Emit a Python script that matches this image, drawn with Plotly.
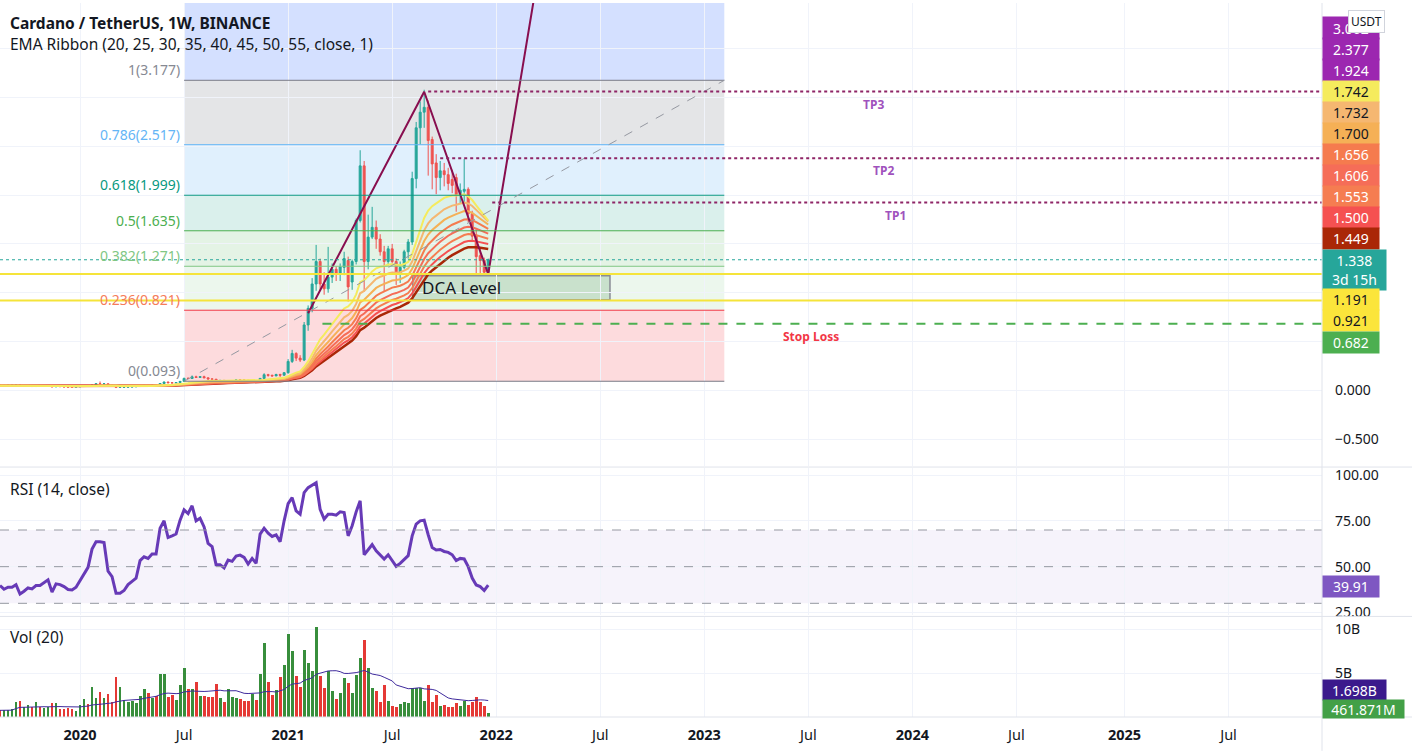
import pandas as pd
import numpy as np
import plotly.graph_objects as go
from plotly.subplots import make_subplots

# ---------------- data (weekly ADA/USDT) ----------------
start_week = "2019-08-19"
n_weeks = 123
opens = [0.053,0.048,0.050,0.052,0.053,0.055,0.040,0.041,0.042,0.039,0.043,0.041,0.042,0.044,0.036,0.039,0.038,0.035,0.033,0.033,
         0.035,0.040,0.045,0.043,0.053,0.068,0.066,0.067,0.052,0.047,0.031,0.032,0.033,0.035,0.036,0.039,0.047,0.050,0.048,0.051,
         0.050,0.070,0.085,0.078,0.076,0.080,0.092,0.122,0.121,0.139,0.132,0.140,0.128,0.117,0.114,0.091,0.102,0.093,0.097,0.100,
         0.106,0.105,0.103,0.094,0.100,0.097,0.122,0.160,0.154,0.148,0.162,0.155,0.181,0.296,0.378,0.33,0.31,0.67,0.84,1.09,
         1.32,1.09,1.04,1.16,1.24,1.20,1.26,1.33,1.11,1.32,1.74,2.30,1.32,1.57,1.67,1.55,1.42,1.32,1.45,1.32,
         1.20,1.26,1.42,1.52,2.17,2.69,2.85,2.90,2.57,2.33,2.18,2.25,2.21,2.16,2.18,2.00,2.04,2.06,1.81,1.59,
         1.38,1.33,1.21]
highs = [0.056,0.052,0.054,0.056,0.060,0.056,0.042,0.044,0.043,0.045,0.045,0.044,0.047,0.045,0.041,0.040,0.039,0.036,0.035,0.036,
         0.041,0.047,0.046,0.055,0.070,0.091,0.071,0.068,0.055,0.049,0.035,0.036,0.037,0.038,0.040,0.050,0.054,0.052,0.053,0.053,
         0.073,0.090,0.087,0.082,0.083,0.094,0.130,0.134,0.152,0.150,0.144,0.150,0.130,0.119,0.116,0.105,0.104,0.100,0.103,0.111,
         0.109,0.108,0.105,0.102,0.106,0.125,0.175,0.169,0.160,0.170,0.170,0.185,0.32,0.415,0.39,0.36,0.70,0.87,1.15,1.49,
         1.35,1.21,1.47,1.30,1.27,1.30,1.42,1.37,1.34,1.76,2.46,2.35,1.80,1.88,1.74,1.60,1.48,1.48,1.50,1.35,
         1.32,1.44,1.55,2.24,2.75,2.96,3.08,2.97,2.60,2.42,2.35,2.33,2.28,2.26,2.22,2.12,2.37,2.08,1.84,1.65,
         1.46,1.36,1.35]
lows = [0.046,0.045,0.048,0.050,0.049,0.037,0.038,0.038,0.037,0.036,0.040,0.040,0.041,0.034,0.035,0.036,0.034,0.032,0.032,0.032,
        0.034,0.039,0.041,0.042,0.052,0.064,0.060,0.050,0.044,0.023,0.027,0.030,0.031,0.033,0.034,0.038,0.045,0.045,0.047,0.048,
        0.049,0.068,0.073,0.075,0.074,0.079,0.090,0.116,0.118,0.128,0.130,0.126,0.110,0.108,0.077,0.089,0.090,0.087,0.094,0.098,
        0.100,0.098,0.091,0.092,0.095,0.095,0.118,0.140,0.140,0.145,0.137,0.150,0.17,0.28,0.30,0.29,0.30,0.61,0.80,1.02,
        1.03,0.98,1.00,1.10,1.12,1.12,1.18,0.91,1.03,1.29,1.72,1.01,1.24,1.55,1.45,1.38,1.01,1.28,1.30,1.08,
        1.10,1.24,1.35,1.49,2.07,2.52,2.69,2.20,2.06,2.01,2.05,2.09,2.05,2.02,1.83,1.92,1.93,1.72,1.52,1.18,
        1.20,1.19,1.19]
closes = [0.048,0.050,0.052,0.053,0.055,0.040,0.041,0.042,0.039,0.043,0.041,0.042,0.044,0.036,0.039,0.038,0.035,0.033,0.0325,0.035,
          0.040,0.045,0.043,0.053,0.068,0.066,0.067,0.052,0.047,0.031,0.032,0.033,0.035,0.036,0.039,0.047,0.050,0.048,0.051,0.050,
          0.070,0.085,0.078,0.076,0.080,0.092,0.122,0.121,0.139,0.132,0.140,0.128,0.117,0.114,0.091,0.102,0.093,0.097,0.100,0.106,
          0.105,0.103,0.094,0.100,0.097,0.122,0.160,0.154,0.148,0.162,0.155,0.181,0.296,0.378,0.33,0.31,0.67,0.84,1.09,1.32,
          1.09,1.04,1.16,1.24,1.20,1.265,1.35,1.06,1.32,1.74,2.30,1.32,1.57,1.67,1.55,1.42,1.32,1.45,1.32,1.20,
          1.26,1.42,1.52,2.17,2.69,2.85,2.90,2.56,2.32,2.18,2.25,2.21,2.12,2.10,2.00,2.05,2.06,1.81,1.58,1.37,
          1.33,1.21,1.338]
volume_b = [0.76,0.76,0.76,0.84,1.71,1.79,1.14,1.33,1.14,1.67,1.14,1.03,1.06,1.52,1.52,0.91,0.84,0.95,0.91,0.65,
            1.29,2.02,1.41,3.42,2.13,2.85,2.13,2.59,1.71,4.56,3.42,1.90,1.71,1.79,1.60,2.36,3.16,2.66,2.09,2.36,
            4.87,4.87,2.28,2.47,1.90,3.61,5.51,3.16,3.16,3.99,2.36,2.36,2.21,2.28,3.73,2.09,1.71,3.12,2.21,2.09,
            2.02,1.79,1.79,2.59,1.90,4.87,8.37,3.99,2.47,3.04,4.56,5.89,9.43,7.49,4.64,3.42,7.60,6.16,5.21,10.27,
            4.64,3.31,5.25,2.97,2.02,2.74,4.41,3.80,2.74,4.75,6.65,8.75,5.51,3.23,2.93,1.71,3.61,1.79,1.22,1.06,
            1.44,1.67,1.60,3.31,3.31,3.31,1.79,3.61,1.71,2.47,1.22,1.33,1.14,1.06,1.60,1.22,1.83,1.33,1.71,2.21,
            1.71,1.22,0.462]
rsi = [39.7,37.7,38.8,38.8,40.2,35.1,36.6,38.4,37.9,39.7,39.7,41.5,42.8,36.1,40.6,40.2,39.1,37.5,37.3,38.8,
       42.4,46.4,49.6,59.6,63.6,63.6,63.2,47.5,44.6,35.5,35.5,37.0,40.2,42.0,43.7,53.3,55.4,54.5,56.9,56.9,
       71.0,75.0,65.9,66.8,67.8,75.4,81.0,79.0,83.2,75.0,76.4,71.7,62.7,60.9,51.1,51.1,49.3,53.6,52.9,55.8,
       56.3,55.1,51.4,54.5,51.8,67.8,71.0,68.3,66.5,67.4,63.6,75.0,84.4,87.7,80.4,78.6,90.4,93.1,94.6,95.8,
       81.3,75.9,78.6,78.6,78.1,79.9,79.5,66.8,72.3,79.9,85.9,56.5,59.2,62.0,58.7,56.3,54.2,56.5,53.6,50.2,
       51.8,54.2,56.0,66.8,73.2,75.0,75.4,67.4,60.5,59.1,59.4,58.3,57.8,56.5,53.3,54.5,54.2,50.0,43.8,40.0,
       39.1,37.0,39.91]
ema_lengths = [20, 25, 30, 35, 40, 45, 50, 55]
ema_colors = ["#f5eb5d", "#f5b771", "#f5b056", "#f57b4e", "#f56d58", "#f57d51", "#f55151", "#aa2707"]
ema_labels = ["1.742", "1.732", "1.700", "1.656", "1.606", "1.553", "1.500", "1.449"]
vol_ma_label = "1.698B"
vol_last_label = "461.871M"

# fib retracement drawing
fib_start, fib_end = "2020-07-06", "2023-02-06"
fib_low, fib_high = 0.093, 3.177
fib_levels = [0, 0.236, 0.382, 0.5, 0.618, 0.786, 1]
fib_line_colors = ["#787b86", "#f23645", "#81c784", "#4caf50", "#089981", "#64b5f6", "#787b86"]
fib_text_colors = ["#868993", "#f57c5a", "#81c784", "#4caf50", "#089981", "#64b5f6", "#868993"]
fib_fill_colors = ["rgba(242,54,69,0.18)", "rgba(129,199,132,0.15)", "rgba(76,175,80,0.15)",
                   "rgba(8,153,129,0.15)", "rgba(100,181,246,0.2)", "rgba(120,123,134,0.2)",
                   "rgba(41,98,255,0.2)"]

# zigzag drawing
zig_dates = ["2021-02-08", "2021-08-30", "2021-12-20", "2022-04-07"]
zig_prices = [0.79, 3.06, 1.19, 5.0]
# targets / levels
tp_names = ["TP1", "TP2", "TP3"]
tp_prices = [1.924, 2.377, 3.062]
tp_starts = ["2021-12-27", "2021-09-27", "2021-09-06"]
tp_text_dates = ["2023-12-02", "2023-11-11", "2023-10-25"]
dca_upper, dca_lower = 1.191, 0.921
dca_box = ("2021-08-10", "2022-07-21", 0.929, 1.173)
stop_loss = 0.682
stop_start = "2021-03-05"
stop_text_date = "2023-07-08"
last_price = 1.338

x_ticks = ["2020-01-06", "2020-07-06", "2021-01-04", "2021-07-05", "2022-01-03", "2022-07-04",
           "2023-01-02", "2023-07-03", "2024-01-01", "2024-07-01", "2025-01-06", "2025-07-07"]
x_tick_text = ["<b>2020</b>", "Jul", "<b>2021</b>", "Jul", "<b>2022</b>", "Jul",
               "<b>2023</b>", "Jul", "<b>2024</b>", "Jul", "<b>2025</b>", "Jul"]
X_LEFT, X_RIGHT = "2019-08-19", "2025-12-17 12:00"

# ---------------- derived ----------------
dates = pd.date_range(start_week, periods=n_weeks, freq="7D")
close_s = pd.Series(closes, index=dates)
vol = np.array(volume_b) * 1e9
vol_ma = pd.Series(vol).rolling(20, min_periods=1).mean()
up = [c >= o for o, c in zip(opens, closes)]
vol_colors = ["#388e3c" if u else "#e53935" for u in up]

W, H = 1412, 751
MR, MB = 90, 34
PH = H - MB
PW = W - MR
def py(px):
    return 1 - px / PH

FONT = "Noto Sans"
TXT = "#131722"
GRID = "#f0f3fa"

fig = make_subplots(rows=3, cols=1, shared_xaxes=True, vertical_spacing=0)

# fib fills
shapes = []
bounds = [fib_low + l * (fib_high - fib_low) for l in fib_levels] + [6.0]
for k in range(len(bounds) - 1):
    shapes.append(dict(type="rect", xref="x", yref="y", x0=fib_start, x1=fib_end,
                       y0=bounds[k], y1=bounds[k + 1], fillcolor=fib_fill_colors[k],
                       line_width=0, layer="below"))
for k, l in enumerate(fib_levels):
    shapes.append(dict(type="line", xref="x", yref="y", x0=fib_start, x1=fib_end,
                       y0=bounds[k], y1=bounds[k], line=dict(color=fib_line_colors[k], width=1)))
shapes.append(dict(type="line", xref="x", yref="y", x0=fib_start, x1=fib_end, y0=fib_low, y1=fib_high,
                   line=dict(color="#9598a1", width=1, dash="dash")))
# DCA box
shapes.append(dict(type="rect", xref="x", yref="y", x0=dca_box[0], x1=dca_box[1], y0=dca_box[2], y1=dca_box[3],
                   fillcolor="rgba(110,170,120,0.28)", line=dict(color="#8a8d96", width=1.5), layer="below"))

# candles
fig.add_trace(go.Candlestick(x=dates, open=opens, high=highs, low=lows, close=closes,
                             increasing=dict(line=dict(color="#26a69a", width=1), fillcolor="#26a69a"),
                             decreasing=dict(line=dict(color="#ef5350", width=1), fillcolor="#ef5350"),
                             whiskerwidth=0, showlegend=False, hoverinfo="skip"), row=1, col=1)
# EMA ribbon
for n, col in reversed(list(zip(ema_lengths, ema_colors))):
    ema = close_s.ewm(span=n, adjust=False).mean()
    fig.add_trace(go.Scatter(x=dates, y=ema, mode="lines", line=dict(color=col, width=2.5 if n == 55 else 2),
                             showlegend=False, hoverinfo="skip"), row=1, col=1)

# horizontal levels
for p in (dca_upper, dca_lower):
    shapes.append(dict(type="line", xref="x domain", yref="y", x0=0, x1=1, y0=p, y1=p,
                       line=dict(color="#f5e43a", width=2)))
shapes.append(dict(type="line", xref="x domain", yref="y", x0=0, x1=1, y0=last_price, y1=last_price,
                   line=dict(color="#26a69a", width=1, dash="dot")))
shapes.append(dict(type="line", xref="x", yref="y", x0=stop_start, x1=X_RIGHT, y0=stop_loss, y1=stop_loss,
                   line=dict(color="#4caf50", width=2, dash="dash")))
for p, s in zip(tp_prices, tp_starts):
    shapes.append(dict(type="line", xref="x", yref="y", x0=s, x1=X_RIGHT, y0=p, y1=p,
                       line=dict(color="#8e2466", width=2, dash="dot")))

# zigzag
fig.add_trace(go.Scatter(x=zig_dates, y=zig_prices, mode="lines", line=dict(color="#880e4f", width=2),
                         showlegend=False, hoverinfo="skip", cliponaxis=True), row=1, col=1)

# RSI
shapes.append(dict(type="rect", xref="x2 domain", yref="y2", x0=0, x1=1, y0=30, y1=70,
                   fillcolor="rgba(126,87,194,0.07)", line_width=0, layer="below"))
for lv in (70, 50, 30):
    shapes.append(dict(type="line", xref="x2 domain", yref="y2", x0=0, x1=1, y0=lv, y1=lv,
                       line=dict(color="#9598a1", width=1, dash="dash")))
fig.add_trace(go.Scatter(x=dates, y=rsi, mode="lines", line=dict(color="#673ab7", width=3),
                         showlegend=False, hoverinfo="skip"), row=2, col=1)

# Volume
fig.add_trace(go.Bar(x=dates, y=vol, marker=dict(color=vol_colors, line_width=0),
                     width=7 * 24 * 3600 * 1000 * 0.72, showlegend=False, hoverinfo="skip"), row=3, col=1)
fig.add_trace(go.Scatter(x=dates, y=vol_ma, mode="lines", line=dict(color="#3f2a9c", width=1),
                         showlegend=False, hoverinfo="skip"), row=3, col=1)

# pane separators / axis border
for ypx in (466, 616, 717):
    shapes.append(dict(type="line", xref="paper", yref="paper", x0=0, x1=W / PW, y0=py(ypx), y1=py(ypx),
                       line=dict(color="#e0e3eb", width=1)))
shapes.append(dict(type="line", xref="paper", yref="paper", x0=1, x1=1, y0=py(H), y1=1,
                   line=dict(color="#e0e3eb", width=1)))

annotations = []
def add_text(text, x, y, size=13, color=TXT, xanchor="left", yanchor="middle", xref="paper", yref="paper",
             bold=False, xshift=0, yshift=0):
    annotations.append(dict(text=f"<b>{text}</b>" if bold else text, x=x, y=y, xref=xref, yref=yref,
                            xanchor=xanchor, yanchor=yanchor, showarrow=False, xshift=xshift, yshift=yshift,
                            font=dict(family=FONT, size=size, color=color)))

add_text("Cardano / TetherUS, 1W, BINANCE", 8 / PW, py(20), size=15.5, bold=True)
add_text("EMA Ribbon (20, 25, 30, 35, 40, 45, 50, 55, close, 1)", 8 / PW, py(41), size=15.5)
add_text("RSI (14, close)", 8 / PW, py(488), size=15.5)
add_text("Vol (20)", 8 / PW, py(637), size=15.5)

for k, l in enumerate(fib_levels):
    lab = f"{l:g}({bounds[k]:.3f})"
    add_text(lab, fib_start, bounds[k], size=14, color=fib_text_colors[k], xanchor="right", yanchor="bottom",
             xref="x", yref="y", xshift=-2, yshift=-1)

for name, p, d in zip(tp_names, tp_prices, tp_text_dates):
    add_text(name, d, p, size=12, color="#a052bd", xanchor="center", yanchor="top", xref="x", yref="y",
             bold=True, yshift=-2)
add_text("Stop Loss", stop_text_date, stop_loss, size=12, color="#f23645", xanchor="center", yanchor="top",
         xref="x", yref="y", bold=True, yshift=-2)
add_text("DCA Level", dca_box[0], (dca_box[2] + dca_box[3]) / 2, size=17, color="#131722", xref="x", yref="y",
         xshift=7)

def tag(text, ycen, bg, fg, w=54, h=19):
    annotations.append(dict(text=text, x=1, y=py(ycen), xref="paper", yref="paper", xanchor="left",
                            yanchor="middle", showarrow=False, bgcolor=bg, width=w, height=h, borderpad=1,
                            align="center", font=dict(family=FONT, size=14, color=fg)))

tag(f"{tp_prices[2]:.3f}", 25, "#9c27b0", "white", h=20)
tag(f"{tp_prices[1]:.3f}", 46, "#9c27b0", "white", h=20)
tag(f"{tp_prices[0]:.3f}", 67, "#9c27b0", "white", h=20)
for k, (lab, col) in enumerate(zip(ema_labels, ema_colors)):
    tag(lab, 89 + k * 21.1, col, TXT if k < 3 else "white")
tag(f"{last_price:.3f}<br>3d 15h", 268, "#26a69a", "white", w=61, h=38)
tag(f"{dca_upper:.3f}", 298, "#fbe53b", TXT)
tag(f"{dca_lower:.3f}", 319, "#fbe53b", TXT)
tag(f"{stop_loss:.3f}", 341, "#4caf50", "white")
tag(f"{rsi[-1]:.2f}", 586, "#7e57c2", "white")
tag(vol_ma_label, 690, "#3b1a8c", "white", w=61, h=18)
tag(vol_last_label, 709, "#43a047", "white", w=79, h=16)
annotations.append(dict(text="USDT", x=1366 / PW, y=py(18.5), xref="paper", yref="paper", xanchor="center",
                        yanchor="middle", showarrow=False, bgcolor="white", bordercolor="#d1d4dc", borderwidth=1,
                        borderpad=2, font=dict(family=FONT, size=12, color=TXT)))

price_ticks = [-0.5, 0, 0.5, 1, 1.5, 2, 2.5, 3, 3.5]
price_text = ["\u22120.500", "0.000"] + [""] * 7

fig.update_layout(
    width=W, height=H, margin=dict(l=0, r=MR, t=0, b=MB),
    paper_bgcolor="white", plot_bgcolor="white", showlegend=False, hovermode=False,
    font=dict(family=FONT, size=13, color=TXT),
    shapes=shapes, annotations=annotations, bargap=0,
)
xcommon = dict(type="date", range=[X_LEFT, X_RIGHT], tickvals=x_ticks, ticktext=x_tick_text,
               showgrid=True, gridcolor=GRID, gridwidth=1, zeroline=False, showline=False,
               rangeslider=dict(visible=False), fixedrange=True)
fig.update_xaxes(**xcommon)
fig.update_xaxes(showticklabels=False, row=1, col=1)
fig.update_xaxes(showticklabels=False, row=2, col=1)
fig.update_xaxes(showticklabels=True, ticks="", ticklabelstandoff=7, tickfont=dict(size=14.5, color=TXT),
                 row=3, col=1)
fig.update_layout(
    yaxis=dict(domain=[py(465), 1], range=[-0.776, 3.969], side="right", tickvals=price_ticks,
               ticktext=price_text, showgrid=True, gridcolor=GRID, zeroline=False, ticklabelstandoff=12,
               tickfont=dict(size=14, color=TXT)),
    yaxis2=dict(domain=[py(615), py(467)], range=[23.4, 103.8], side="right", tickvals=[25, 50, 75, 100],
                ticktext=["25.00", "50.00", "75.00", "100.00"], showgrid=True, gridcolor=GRID, zeroline=False,
                ticklabelstandoff=12, tickfont=dict(size=14, color=TXT)),
    yaxis3=dict(domain=[0, py(617)], range=[0, 11.36e9], side="right", tickvals=[5e9, 10e9],
                ticktext=["5B", "10B"], showgrid=True, gridcolor=GRID, zeroline=False,
                ticklabelstandoff=12, tickfont=dict(size=14, color=TXT)),
)

fig.write_html("out.html", config={"displayModeBar": False})
